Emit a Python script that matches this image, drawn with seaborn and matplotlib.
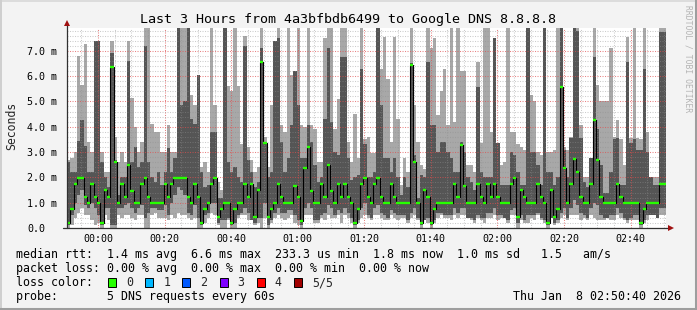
import numpy as np
import matplotlib
matplotlib.use("Agg")
import matplotlib.pyplot as plt
import seaborn as sns
from matplotlib.patches import Rectangle
from matplotlib.lines import Line2D

# ---------------- data (values in ms) ----------------
median = [0.2, .75, 1.74, 1.98, 1.98, 1.23, 1.0, 1.74, 1.23, 1.0,
          0.2, 1.5, 1.23, 6.34, 2.62, 1.0, 1.74, 1.23, 2.5, 1.48,
          1.0, 1.0, 1.74, 1.98, 1.23, 1.0, 1.0, 1.0, 1.0, 1.74,
          1.23, 1.74, 1.98, 1.98, 1.98, 1.98, 1.23, .97, 1.74, 1.23,
          .2, .75, .97, 1.74, 1.98, .43, .75, .97, .97, .2,
          .75, .97, .97, 1.74, 1.23, 1.74, .43, 1.5, 6.57, 3.36,
          .43, .75, .97, 1.74, 1.23, .97, .97, .97, 1.66, 1.23,
          .28, 2.38, 3.2, 1.48, .97, .97, 1.74, 1.23, 2.5, 1.48,
          .97, 1.74, 1.23, 1.74, 1.23, .97, .2, .75, 1.74, 1.98,
          1.23, .97, 1.74, 1.98, 1.23, .97, .97, 1.74, 1.23, .97,
          .97, .97, .97, 6.44, 2.62, .97, .2, 1.5, 1.23, .2,
          .75, .97, .97, .97, .97, .97, 1.74, 1.23, 3.28, 1.66,
          .97, .97, .97, 1.74, 1.23, .97, 1.74, 1.23, 1.74, 1.23,
          .97, .97, .97, 1.74, 1.98, .43, 1.5, 1.23, .97, .97,
          .97, 1.74, 1.23, .97, .2, 1.5, .43, .75, 5.56, 2.38,
          .97, 1.74, 2.74, 2.23, 1.23, .97, .97, 1.74, 4.27, 2.7,
          1.23, .97, .97, .97, .97, 1.74, 1.23, .97, .97, .97,
          .97, .97, .2, .75, .97, .97, .97, .97, 1.74, 1.74]

ping_max = [2.7, 2.75, 3.0, 6.8, 5.65, 7.27, 3.4, 3.0, 7.37, 7.37,
            3.0, 2.2, 2.2, 7.37, 3.6, 2.6, 3.0, 2.6, 7.37, 5.13,
            4.0, 3.0, 3.4, 7.9, 7.9, 4.1, 3.8, 3.8, 3.0, 3.0,
            4.07, 3.0, 3.0, 7.9, 7.9, 7.9, 7.9, 5.25, 4.86, 6.05,
            2.4, 2.6, 2.2, 7.9, 4.86, 1.8, 1.5, 7.9, 5.6, 5.4,
            7.9, 5.6, 3.3, 7.6, 3.2, 2.7, 2.2, 2.4, 7.9, 3.6,
            2.4, 4.86, 7.4, 7.9, 4.07, 3.8, 7.9, 6.05, 6.2, 7.9,
            4.07, 4.0, 7.9, 4.07, 3.9, 2.6, 2.6, 7.5, 7.9, 7.9,
            3.9, 5.1, 7.9, 7.9, 3.4, 2.6, 4.5, 2.75, 7.9, 3.5,
            3.6, 2.95, 2.95, 7.9, 6.3, 7.56, 5.9, 3.4, 7.56, 4.3,
            1.7, 2.75, 2.2, 7.9, 4.86, 3.4, 2.5, 2.35, 7.9, 7.1,
            7.5, 4.47, 5.4, 6.3, 4.07, 7.9, 4.2, 7.9, 6.2, 6.2,
            2.5, 2.5, 2.2, 6.57, 3.35, 7.9, 7.9, 3.8, 7.5, 3.35,
            2.5, 2.6, 7.9, 3.8, 3.8, 3.3, 3.2, 3.1, 7.9, 5.25,
            5.0, 3.0, 2.9, 7.9, 3.0, 3.0, 3.1, 7.9, 7.9, 3.2,
            3.1, 3.6, 7.9, 7.9, 4.07, 2.0, 2.0, 2.75, 7.9, 5.65,
            5.0, 5.0, 5.0, 7.1, 3.6, 4.27, 3.5, 2.5, 7.56, 3.55,
            7.9, 3.55, 3.5, 7.9, 3.8, 2.0, 2.0, 2.0, 7.9, 7.9]

ping_high = [2.6, 2.2, 2.2, 3.45, 4.27, 3.25, 2.2, 2.2, 7.37, 7.37,
             2.6, 2.0, 1.6, 6.9, 2.7, 1.3, 2.0, 2.0, 6.6, 2.6,
             3.2, 2.4, 2.6, 7.2, 2.6, 2.0, 1.8, 2.2, 1.7, 2.2,
             3.15, 2.2, 2.75, 7.9, 4.86, 5.0, 7.9, 4.3, 4.1, 6.05,
             2.2, 1.6, 1.7, 3.8, 3.8, 1.2, 1.2, 7.9, 2.6, 2.2,
             2.4, 2.0, 1.8, 7.2, 2.7, 2.2, 1.6, 1.8, 7.1, 3.4,
             2.0, 2.2, 7.37, 7.5, 3.4, 2.2, 2.75, 4.07, 6.2, 4.86,
             2.75, 2.75, 4.07, 3.4, 2.5, 1.8, 2.0, 4.3, 7.1, 4.2,
             3.0, 2.9, 6.77, 6.77, 2.75, 1.9, 2.0, 2.1, 6.3, 3.3,
             2.0, 2.0, 2.2, 7.9, 4.86, 2.75, 2.75, 2.2, 2.75, 2.0,
             1.3, 2.0, 1.6, 6.5, 2.9, 1.2, 2.1, 2.0, 6.57, 4.07,
             4.07, 3.0, 3.4, 3.4, 3.0, 2.75, 2.2, 2.2, 3.4, 3.0,
             2.0, 1.8, 1.5, 5.58, 2.2, 2.0, 2.0, 2.0, 7.5, 3.35,
             1.7, 1.7, 1.7, 3.0, 2.9, 2.2, 1.7, 1.7, 7.9, 3.0,
             3.0, 2.5, 1.7, 7.9, 2.2, 2.2, 1.7, 2.0, 7.9, 3.1,
             2.0, 3.55, 7.9, 7.8, 3.55, 1.8, 1.6, 2.75, 6.77, 3.9,
             2.5, 1.4, 1.4, 2.2, 3.5, 3.55, 1.7, 1.7, 6.57, 3.36,
             3.5, 3.1, 3.1, 6.3, 3.0, 2.0, 1.7, 1.7, 7.76, 7.76]

ping_low = [.1, .5, 1.0, 1.3, 1.5, .9, .8, 1.0, .8, .5,
            .1, .8, .8, .1, .1, .8, .8, .9, 1.0, .8,
            .6, .8, .9, .4, .6, .8, .8, .7, .7, .9,
            .5, 1.0, 1.3, 1.6, 1.5, 1.3, .6, .5, .9, .4,
            .1, .5, .6, 1.0, 1.0, .2, .3, .3, .4, .1,
            .2, .5, .6, .8, .6, .3, .2, .4, .4, 1.0,
            .1, .3, .6, .8, .6, .6, .7, .7, .5, .3,
            .1, .8, 1.0, .8, .3, .3, .5, .6, .9, .8,
            .5, .7, .6, .8, .6, .4, .1, .3, .8, 1.0,
            .5, .4, .8, .9, .6, .5, .4, .7, .6, .5,
            .5, .5, .3, .6, .8, .4, .1, .3, .4, .1,
            .3, .6, .6, .5, .5, .5, .8, .6, .8, .8,
            .4, .4, .3, .5, .4, .4, .6, .6, .8, .5,
            .5, .4, .3, .7, .8, .2, .5, .3, .5, .5,
            .5, .6, .4, .3, .1, .4, .2, .3, .6, .8,
            .4, .8, 1.1, .9, .6, .5, .4, .8, 1.0, .9,
            .5, .4, .4, .5, .5, .8, .6, .4, .3, .4,
            .5, .5, .1, .3, .5, .5, .5, .4, .8, .8]

ping_min = [0, .1, .4, .6, .8, .5, .5, .3, .1, .2,
            0, .5, .3, 0, 0, .5, .4, .5, .5, .4,
            .3, .5, .5, 0, 0, .5, .6, .4, .4, .4,
            .3, .5, .4, .6, .5, .5, .4, .3, .4, 0,
            0, .2, .4, .6, .5, .1, 0, 0, .3, 0,
            0, .4, .5, .5, .3, .3, .1, .2, 0, .4,
            0, .2, .4, .5, .4, .3, .4, .5, .2, .1,
            0, .5, .5, .5, .2, .2, .4, .3, .5, .4,
            .4, .5, .2, .5, .4, .2, 0, .2, .4, .5,
            .4, .3, .5, .5, .4, .3, .3, .5, .4, .3,
            .4, .4, .2, .4, .5, .3, 0, .3, .2, 0,
            .2, .4, .5, .4, .4, .3, .5, .4, .5, .5,
            .4, .3, .2, .4, .3, .2, .4, .4, .5, .3,
            .4, .4, .2, .5, .5, 0, .3, .2, .2, .4,
            .3, .5, .3, .2, 0, .4, .1, .2, .4, .5,
            .3, .5, .5, .5, .3, .4, .3, .5, .4, .3,
            .3, .3, .4, .3, .3, .5, .4, .3, .2, .3,
            .3, .3, 0, .2, .3, .5, .5, .4, .5, .5]

y_tick_values = [0, 1, 2, 3, 4, 5, 6, 7]
y_tick_labels = ["0.0", "1.0 m", "2.0 m", "3.0 m", "4.0 m", "5.0 m", "6.0 m", "7.0 m"]
x_tick_labels = ["00:00", "00:20", "00:40", "01:00", "01:20", "01:40", "02:00", "02:20", "02:40"]
first_label_offset = 9 + 20 / 60  # minutes from 23:50:40 to 00:00

title = "Last 3 Hours from 4a3bfbdb6499 to Google DNS 8.8.8.8"
legend_rows = [
    "median rtt:  1.4 ms avg  6.6 ms max  233.3 us min  1.8 ms now  1.0 ms sd   1.5   am/s",
    "packet loss: 0.00 % avg  0.00 % max  0.00 % min  0.00 % now",
    "loss color:",
    "probe:       5 DNS requests every 60s",
]
loss_labels = ["0", "1", "2", "3", "4", "5/5"]
loss_colors = ["#26ff00", "#00b8ff", "#0059ff", "#7e00ff", "#ff0000", "#a10000"]
timestamp = "Thu Jan  8 02:50:40 2026"

# ---------------- figure ----------------
sns.set_style("white")
plt.rcParams["font.family"] = ["DejaVu Sans Mono"]

W, H = 697, 310
fig = plt.figure(figsize=(W / 100, H / 100), dpi=100, facecolor="#f3f3f3")

def fx(px):
    return px / W

def fy(py):
    return 1 - py / H

ax = fig.add_axes([fx(67), fy(228), 599 / W, 200 / H])
ax.set_facecolor("white")

n = len(median)
xs = np.arange(n + 1)
ext = lambda a: np.append(np.asarray(a, float), a[-1])

LIGHT = "#a8a8a8"
DARK = "#555555"
ax.fill_between(xs, ext(ping_min), ext(ping_max), step="post", color=LIGHT, lw=0, zorder=1)
ax.fill_between(xs, ext(ping_low), ext(ping_high), step="post", color=DARK, lw=0, zorder=1.5)
sns.lineplot(x=xs, y=ext(median), drawstyle="steps-post", color="black", lw=0.8,
             ax=ax, zorder=3, estimator=None, sort=False)
ax.hlines(median, np.arange(n), np.arange(n) + 1, colors=loss_colors[0], lw=1.7, zorder=4)

ax.set_xlim(0, n)
ax.set_ylim(0, 7.9)

# grid
ax.set_axisbelow(False)
ax.set_yticks(y_tick_values)
ax.set_yticklabels(y_tick_labels)
ax.set_yticks(np.arange(0, 7.9, 0.2), minor=True)
xt = [first_label_offset + 20 * k for k in range(len(x_tick_labels))]
ax.set_xticks(xt)
ax.set_xticklabels(x_tick_labels)
ax.set_xticks(np.arange(first_label_offset - 5, n, 5), minor=True)
ax.grid(True, which="minor", color="#8f8f8f", alpha=0.45, lw=0.75, linestyle=(0, (1, 1.4)))
ax.grid(True, which="major", color="#de5050", alpha=0.7, lw=0.75, linestyle=(0, (1, 1.4)))

ax.tick_params(axis="y", which="major", length=2, width=0.7, color="#404040", pad=26.6,
               labelsize=7.2, labelcolor="black")
ax.tick_params(axis="y", which="minor", length=1.2, width=0.6, color="#808080")
for lab in ax.get_yticklabels():
    lab.set_horizontalalignment("left")
ax.tick_params(axis="x", which="major", length=1.6, width=0.7, color="#de5050", pad=2.5,
               labelsize=7.2, labelcolor="black")
ax.tick_params(axis="x", which="minor", length=1.2, width=0.6, color="#909090")
ax.set_xlabel("")
ax.set_ylabel("")

for s in ax.spines.values():
    s.set_visible(False)

# axis lines with arrows
ax.add_line(Line2D([0, 0], [0, 1 + 5 / 200], transform=ax.transAxes, color="#303030",
                   lw=0.9, clip_on=False, zorder=6))
ax.add_line(Line2D([-4 / 599, 1 + 5 / 599], [0, 0], transform=ax.transAxes, color="#303030",
                   lw=0.9, clip_on=False, zorder=6))
ax.plot([0], [1 + 5 / 200], marker="^", ms=4.5, color="#a01010", transform=ax.transAxes,
        clip_on=False, zorder=7, mew=0)
ax.plot([1 + 5 / 599], [0], marker=">", ms=4.5, color="#a01010", transform=ax.transAxes,
        clip_on=False, zorder=7, mew=0)

# texts
fig.text(fx(348), fy(19), title, ha="center", va="center", fontsize=9.6, color="black")
fig.text(fx(12), fy(126), "Seconds", rotation=90, ha="center", va="center", fontsize=8.3)
fig.text(fx(688), fy(5), "RRDTOOL / TOBI OETIKER", rotation=270, ha="center", va="top",
         fontsize=5.8, color="#b4b4b4")

row_y = [254.5, 268.5, 282.5, 296.5]
for txt, yy in zip(legend_rows, row_y):
    fig.text(fx(16), fy(yy), txt, ha="left", va="center", fontsize=8.4, color="black")
fig.text(fx(681), fy(row_y[3]), timestamp, ha="right", va="center", fontsize=8.4, color="black")

for k, (lab, col) in enumerate(zip(loss_labels, loss_colors)):
    bx = 108 + 37.2 * k
    fig.patches.append(Rectangle((fx(bx), fy(287)), 8 / W, 9 / H, transform=fig.transFigure,
                                 facecolor=col, edgecolor="black", lw=0.7, figure=fig))
    fig.text(fx(bx + 18), fy(row_y[2]), lab, ha="left", va="center", fontsize=8.4)

# frame shading
fig.add_artist(Line2D([0, 1], [fy(0.5), fy(0.5)], color="#dcdcdc", lw=1.4))
fig.add_artist(Line2D([fx(0.5), fx(0.5)], [0, 1], color="#cfcfcf", lw=1.4))
fig.add_artist(Line2D([0, 1], [fy(309), fy(309)], color="#9e9e9e", lw=2.2))
fig.add_artist(Line2D([fx(696), fx(696)], [0, 1], color="#9e9e9e", lw=2.2))

fig.savefig("out.png", dpi=100, facecolor=fig.get_facecolor())
